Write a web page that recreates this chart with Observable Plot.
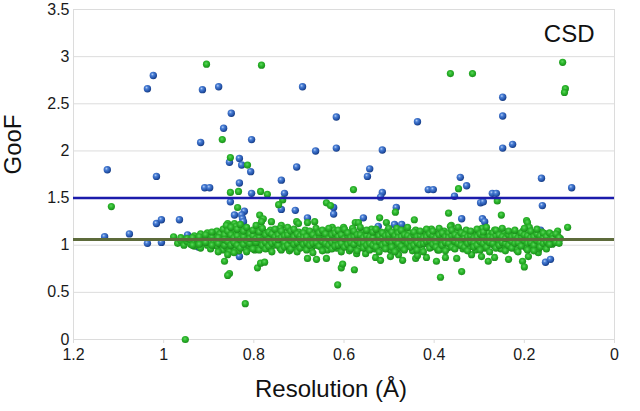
<!DOCTYPE html>
<html>
<head>
<meta charset="utf-8">
<script src="https://cdn.jsdelivr.net/npm/d3@7"></script>
<script src="https://cdn.jsdelivr.net/npm/@observablehq/plot@0.6"></script>
<style>
  html, body { margin: 0; padding: 0; background: #fff; }
  #chart svg { display: block; }
</style>
</head>
<body>
<div id="chart"></div>
<script>
// ---- data ----
const xTicks = [1.2, 1, 0.8, 0.6, 0.4, 0.2, 0];
const yTicks = [0, 0.5, 1, 1.5, 2, 2.5, 3, 3.5];
const blueLine = [1.5];
const greenLine = [1.06];
const xTitle = "Resolution (Å)";
const yTitle = "GooF";
const panelLabel = "CSD";

// blue points: [resolution, GooF]
const bluePts = [
  [1.125,1.80],[1.036,2.66],[1.023,2.80],[0.914,2.65],[0.878,2.68],[0.918,2.09],[1.016,1.73],
  [0.909,1.61],[0.898,1.61],[0.692,2.68],[0.850,2.40],[0.617,2.36],[0.437,2.31],[0.867,2.24],
  [0.805,2.12],[0.663,2.00],[0.617,2.03],[0.515,2.01],[0.854,1.88],[0.832,1.92],[0.827,1.85],
  [0.807,1.78],[0.705,1.83],[0.543,1.81],[0.548,1.73],[0.739,1.69],[0.832,1.66],[0.805,1.55],
  [0.732,1.55],[0.515,1.56],[0.519,1.51],[0.852,1.46],[0.248,2.57],[0.248,2.37],[0.248,2.03],
  [0.226,2.07],[0.162,1.71],[0.095,1.61],[0.342,1.72],[0.328,1.63],[0.413,1.59],[0.402,1.59],
  [0.355,1.52],[0.271,1.55],[0.262,1.55],[0.297,1.45],[0.291,1.46],[0.484,1.40],[0.339,1.28],
  [0.557,1.29],[0.524,1.20],[0.488,1.22],[0.472,1.22],[0.293,1.28],[0.288,1.25],[0.160,1.42],
  [0.164,1.16],[0.169,1.13],[0.200,1.00],[0.153,0.82],[0.142,0.85],[0.821,1.36],[0.739,1.38],
  [0.708,1.37],[0.843,1.32],[0.827,1.32],[0.825,1.28],[0.823,1.25],[0.681,1.29],[0.623,1.40],
  [0.623,1.33],[0.832,0.88],[1.016,1.23],[1.005,1.27],[0.965,1.27],[1.076,1.12],[1.131,1.09],
  [1.036,1.02],[1.005,1.03],[0.947,1.11],[0.956,1.02],[0.936,1.03],[0.923,0.98],[0.916,1.10]
];

// green outliers: [resolution, GooF]
const greenOut = [
  [0.905,2.92],[0.783,2.91],[0.364,2.82],[0.315,2.82],[0.115,2.94],[0.109,2.66],[0.111,2.62],
  [0.870,2.12],[0.852,1.93],[0.814,1.85],[0.852,1.56],[0.834,1.57],[0.785,1.57],[0.770,1.54],
  [0.579,1.59],[0.736,1.48],[0.346,1.60],[1.116,1.41],[0.952,0.00],[0.745,1.43],[0.836,1.40],
  [0.787,1.32],[0.779,1.28],[0.783,1.25],[0.761,1.25],[0.739,1.21],[0.705,1.25],[0.701,1.23],
  [0.681,1.24],[0.665,1.25],[0.639,1.45],[0.630,1.42],[0.626,1.19],[0.601,1.19],[0.858,1.23],
  [0.843,1.23],[0.885,1.13],
  [0.865,0.83],[0.854,0.70],[0.858,0.68],[0.792,0.76],[0.785,0.81],[0.776,0.82],[0.819,0.38],
  [0.681,0.86],[0.661,0.85],[0.639,0.86],[0.606,0.76],[0.603,0.80],[0.614,0.58],[0.577,0.74],
  [0.572,0.91],[0.552,0.91],[0.530,0.87],[0.519,0.84],[0.497,0.88],[0.479,0.90],[0.470,0.84],
  [0.441,0.86],[0.437,0.89],[0.417,0.87],[0.395,0.83],[0.386,0.66],[0.375,0.87],[0.350,0.86],
  [0.339,0.72],[0.317,0.90],[0.295,0.88],[0.280,0.83],[0.266,0.87],[0.235,0.85],[0.204,0.83],
  [0.200,0.77],[0.191,0.88],[0.182,0.97],[0.169,0.92],[0.138,1.01],
  [0.486,1.35],[0.368,1.34],[0.521,1.29],[0.506,1.24],[0.444,1.27],[0.575,1.24],[0.568,1.24],
  [0.362,1.21],[0.346,1.17],[0.260,1.47],[0.251,1.32],[0.195,1.26],[0.193,1.24],[0.104,1.19],
  [0.126,1.15]
];

// green dense band, first pass: [resolution, [GooF values]]
const greenBandA = [
  [0.978,[1.09]],[0.969,[1.02]],[0.962,[1.05,1.08]],[0.955,[1.00]],[0.948,[1.04,1.07]],
  [0.940,[1.01,1.06]],[0.932,[1.03,1.10,0.99]],[0.925,[1.05,1.07]],[0.918,[1.02,1.12,0.97]],
  [0.910,[1.06,1.04,1.09]],[0.903,[1.00,1.08,1.13]],[0.896,[1.05,1.02,0.96]],[0.889,[1.07,1.11,1.03]],
  [0.882,[1.04,0.99,1.09,1.15]],[0.875,[1.06,1.01,1.12]],[0.868,[1.08,1.03,0.95,1.17]],
  [0.861,[1.05,1.10,0.98,1.21]],[0.854,[1.02,1.07,1.13,0.93]],[0.847,[1.09,1.04,1.16,0.99]],
  [0.840,[1.06,1.01,1.11,1.20,0.96]],[0.833,[1.03,1.08,1.14,0.94]],[0.826,[1.05,1.10,0.99,1.18]],
  [0.819,[1.07,1.02,1.12,0.97]],[0.812,[1.04,1.09,1.15,1.00]],[0.805,[1.06,1.11,0.98,1.01]],
  [0.798,[1.08,1.03,1.13,0.95]],[0.791,[1.05,1.00,1.10,1.17]],[0.784,[1.07,1.02,1.12]],
  [0.777,[1.04,1.09,0.98,1.14]],[0.770,[1.06,1.01,1.11]],[0.763,[1.08,1.03,0.96,1.16]],
  [0.756,[1.05,1.10,1.00]],[0.749,[1.07,1.02,1.13]],[0.742,[1.04,1.09,0.97,1.18]],
  [0.735,[1.06,1.11,1.01]],[0.728,[1.08,1.03,1.14]],[0.721,[1.05,1.00,1.10,0.94]],
  [0.714,[1.07,1.12,1.02]],[0.707,[1.04,1.09,0.98]],[0.700,[1.06,1.14,1.01]],
  [0.693,[1.08,1.03,1.11]],[0.686,[1.05,0.99,1.16]],[0.679,[1.07,1.02,1.12]],
  [0.672,[1.04,1.09,0.96]],[0.665,[1.06,1.11,1.00]],[0.658,[1.08,1.03,1.15]],
  [0.651,[1.05,1.10,0.98]],[0.644,[1.07,1.01,1.13]],[0.637,[1.04,1.09,0.95]],
  [0.630,[1.06,1.12,1.02]],[0.623,[1.08,1.00,1.16]],[0.616,[1.05,1.10,0.97]],
  [0.609,[1.07,1.02,1.13]],[0.602,[1.04,1.09,0.99]],[0.595,[1.06,1.14,1.01]],
  [0.588,[1.08,1.03,0.94]],[0.581,[1.05,1.11,1.18]],[0.574,[1.07,1.00,1.12]],
  [0.567,[1.04,1.09,0.97]],[0.560,[1.06,1.15,1.02]],[0.553,[1.08,1.01,1.11]],
  [0.546,[1.05,0.98,1.13]],[0.539,[1.07,1.03,1.17]],[0.532,[1.04,1.10,0.96]],
  [0.525,[1.06,1.12,1.00]],[0.518,[1.08,1.02,1.14]],[0.511,[1.05,1.10,0.99]],
  [0.504,[1.07,1.01,1.15]],[0.497,[1.04,1.09,0.95]],[0.490,[1.06,1.12,1.02]],
  [0.483,[1.08,1.00,1.18]],[0.476,[1.05,1.11,0.97]],[0.469,[1.07,1.03,1.14]],
  [0.462,[1.04,1.09,0.99]],[0.455,[1.06,1.13,1.01]],[0.448,[1.08,1.02,0.94]],
  [0.441,[1.05,1.10,1.16]],[0.434,[1.07,1.00,1.12]],[0.427,[1.04,1.09,0.96]],
  [0.420,[1.06,1.14,1.02]],[0.413,[1.08,1.01,1.11]],[0.406,[1.05,0.98,1.17]],
  [0.399,[1.07,1.03,1.12]],[0.392,[1.04,1.10,0.95]],[0.385,[1.06,1.13,1.00]],
  [0.378,[1.08,1.02,1.15]],[0.371,[1.05,1.11,0.97]],[0.364,[1.07,1.01,1.20]],
  [0.357,[1.04,1.09,0.99]],[0.350,[1.06,1.14,1.02]],[0.343,[1.08,1.00,1.11]],
  [0.336,[1.05,0.96,1.13]],[0.329,[1.07,1.03,1.16]],[0.322,[1.04,1.10,0.98]],
  [0.315,[1.06,1.12,1.01]],[0.308,[1.08,1.02,0.95]],[0.301,[1.05,1.10,1.14]],
  [0.294,[1.07,1.00,1.18]],[0.287,[1.04,1.09,0.97]],[0.280,[1.06,1.13,1.02]],
  [0.273,[1.08,1.01,1.11]],[0.266,[1.05,0.99,1.16]],[0.259,[1.07,1.03,1.12]],
  [0.252,[1.04,1.10,0.96]],[0.245,[1.06,1.14,1.00]],[0.238,[1.08,1.02,1.11]],
  [0.231,[1.05,1.09,0.98]],[0.224,[1.07,1.01,1.13]],[0.217,[1.04,1.10,0.95]],
  [0.210,[1.06,1.12,1.02]],[0.203,[1.08,1.00,1.15]],[0.196,[1.05,1.11,0.97]],
  [0.189,[1.07,1.03,1.19]],[0.182,[1.04,1.09,0.99]],[0.175,[1.06,1.13,1.01]],
  [0.168,[1.08,1.02,0.96]],[0.161,[1.05,1.10,1.14]],[0.154,[1.07,1.00,1.12]],
  [0.147,[1.04,1.09]],[0.140,[1.06,1.11,1.02]],[0.133,[1.08,1.04]],[0.126,[1.05,1.10]],
  [0.120,[1.07]]
];

// green dense band, second pass (interleaved columns)
const greenBandB = [
  [0.936,[1.08,1.00]],[0.921,[1.09,1.01]],[0.907,[1.03,1.11]],[0.893,[1.09,1.00,1.14]],
  [0.879,[1.02,1.08,0.93]],[0.865,[1.11,1.00,1.06]],[0.858,[1.04,1.15,0.90]],[0.851,[1.11,1.00,1.19]],
  [0.844,[1.03,1.08,0.92]],[0.837,[1.10,1.17,1.00]],[0.830,[1.06,0.97,1.22]],[0.823,[1.09,1.01,1.15]],
  [0.816,[1.05,0.93,1.19]],[0.809,[1.02,1.12,1.07]],[0.802,[1.10,0.96,1.16]],[0.795,[1.03,1.07,1.21]],
  [0.788,[1.09,0.95,1.14]],[0.781,[1.05,1.00,1.18]],[0.774,[1.11,0.96,1.03]],[0.767,[1.06,1.14,0.99]],
  [0.760,[1.02,1.12,0.93]],[0.753,[1.09,1.17,1.04]],[0.746,[1.00,1.11,1.06]],[0.739,[1.08,0.95,1.15]],
  [0.732,[1.03,1.10,0.98]],[0.725,[1.11,1.00,1.19]],[0.718,[1.05,0.96,1.15]],[0.711,[1.09,1.01,1.17]],
  [0.704,[1.03,1.12,0.93]],[0.697,[1.10,0.97,1.06]],[0.690,[1.01,1.13,1.08]],[0.683,[1.09,0.95,1.03]],
  [0.676,[1.05,1.15,1.00]],[0.669,[1.11,1.02,0.92]],[0.662,[1.03,1.08,1.18]],[0.655,[1.10,0.99,1.13]],
  [0.648,[1.04,1.16,0.94]],[0.641,[1.09,1.02,1.12]],[0.634,[1.00,1.07,1.18]],[0.627,[1.11,1.03,0.96]],
  [0.620,[1.05,1.13,0.99]],[0.613,[1.09,1.00,1.16]],[0.606,[1.02,1.11,0.93]],[0.599,[1.07,1.17,0.98]],
  [0.592,[1.10,1.01,1.13]],[0.585,[1.03,0.96,1.08]],[0.578,[1.09,1.15,1.01]],[0.571,[1.05,0.94,1.11]],
  [0.564,[1.11,1.02,1.19]],[0.557,[1.03,1.08,0.97]],[0.550,[1.10,1.16,1.00]],[0.543,[1.02,1.09,0.95]],
  [0.536,[1.08,1.14,1.00]],[0.529,[1.03,0.98,1.17]],[0.522,[1.10,1.04,0.93]],[0.515,[1.07,1.13,1.00]],
  [0.508,[1.02,1.10,0.96]],[0.501,[1.11,1.05,1.18]],[0.494,[1.03,0.98,1.14]],[0.487,[1.10,1.05,0.93]],
  [0.480,[1.02,1.13,1.08]],[0.473,[1.09,0.99,1.16]],[0.466,[1.05,1.11,0.95]],[0.459,[1.10,1.02,1.19]],
  [0.452,[1.04,1.08,0.98]],[0.445,[1.11,1.00,1.14]],[0.438,[1.03,1.09,0.95]],[0.431,[1.10,1.15,1.01]],
  [0.424,[1.02,1.08,0.93]],[0.417,[1.09,1.04,1.17]],[0.410,[1.05,1.12,0.97]],[0.403,[1.10,1.01,1.15]],
  [0.396,[1.03,1.08,0.98]],[0.389,[1.11,0.95,1.18]],[0.382,[1.05,1.00,1.13]],[0.375,[1.09,1.03,0.94]],
  [0.368,[1.02,1.13,1.08]],[0.361,[1.10,0.98,1.16]],[0.354,[1.04,1.11,0.96]],[0.347,[1.09,1.02,1.19]],
  [0.340,[1.05,1.13,1.00]],[0.333,[1.11,0.98,1.07]],[0.326,[1.02,1.09,0.94]],[0.319,[1.10,1.15,1.04]],
  [0.312,[1.03,1.08,0.98]],[0.305,[1.09,1.00,1.17]],[0.298,[1.04,1.12,0.95]],[0.291,[1.10,1.02,1.14]],
  [0.284,[1.05,0.98,1.19]],[0.277,[1.09,1.03,0.93]],[0.270,[1.02,1.13,1.08]],[0.263,[1.10,0.97,1.16]],
  [0.256,[1.05,1.11,1.00]],[0.249,[1.09,1.03,1.18]],[0.242,[1.02,1.07,0.94]],[0.235,[1.11,1.00,1.15]],
  [0.228,[1.04,1.09,0.97]],[0.221,[1.10,1.16,1.02]],[0.214,[1.03,1.08,0.93]],[0.207,[1.09,0.99,1.13]],
  [0.200,[1.05,1.11,1.18]],[0.193,[1.10,1.02,0.95]],[0.186,[1.03,1.08,1.15]],[0.179,[1.09,1.00,0.94]],
  [0.172,[1.05,1.12,1.17]],[0.165,[1.10,1.03,0.98]],[0.158,[1.02,1.08,1.13]],[0.151,[1.09,1.04,0.96]],
  [0.144,[1.05,1.13,1.01]],[0.137,[1.10,1.07]],[0.130,[1.03,1.12]],[0.123,[1.08,1.02]]
];

// ---- build tables ----
const blue = bluePts.map(([res, goof]) => ({res, goof}));
const bandRows = cols => cols.flatMap(([res, ys]) => ys.map(goof => ({res, goof})));
const green = greenOut.map(([res, goof]) => ({res, goof}))
  .concat(bandRows(greenBandA), bandRows(greenBandB));

const grid = "#dcdcdc";
const font = "'Liberation Sans', Arial, Helvetica, sans-serif";

const chart = Plot.plot({
  width: 640,
  height: 411,
  marginLeft: 73,
  marginRight: 26,
  marginTop: 9,
  marginBottom: 72,
  style: {fontFamily: font, background: "#fff", color: "#1a1a1a"},
  x: {domain: [1.2, 0], label: null},
  y: {domain: [0, 3.5], label: null},
  marks: [
    Plot.gridY(yTicks, {stroke: grid, strokeOpacity: 1, strokeWidth: 1}),
    Plot.frame({stroke: grid}),
    Plot.axisX(xTicks, {tickFormat: d => String(d), tickSize: 4, tickPadding: 5, stroke: grid, color: "#1a1a1a", fontSize: 16, label: null}),
    Plot.axisY(yTicks, {tickFormat: d => String(d), tickSize: 0, tickPadding: 4, color: "#1a1a1a", fontSize: 16, label: null}),
    Plot.dot(blue, {x: "res", y: "goof", r: 3.7, fill: "url(#gBlue)", stroke: "none"}),
    Plot.dot(green, {x: "res", y: "goof", r: 3.6, fill: "url(#gGreen)", stroke: "none"}),
    Plot.ruleY(blueLine, {stroke: "#1b1bab", strokeWidth: 2.5}),
    Plot.ruleY(greenLine, {stroke: "#5d6b3b", strokeWidth: 3}),
    Plot.text([panelLabel], {frameAnchor: "top-right", textAnchor: "end", lineAnchor: "top", dx: -20, dy: 15, fontSize: 24, fill: "#111"}),
    Plot.text([yTitle], {frameAnchor: "left", rotate: -90, dx: -60, fontSize: 24, fill: "#111"}),
    Plot.text([xTitle], {frameAnchor: "bottom", dx: -13, dy: 57, fontSize: 24, fill: "#111"})
  ]
});

// sphere-like gradients for the dots
const defs = d3.select(chart).insert("defs", ":first-child");
const gb = defs.append("radialGradient").attr("id", "gBlue").attr("cx", "38%").attr("cy", "35%").attr("r", "65%");
gb.append("stop").attr("offset", "0%").attr("stop-color", "#b7cff5");
gb.append("stop").attr("offset", "30%").attr("stop-color", "#4b80d6");
gb.append("stop").attr("offset", "80%").attr("stop-color", "#2251a8");
gb.append("stop").attr("offset", "100%").attr("stop-color", "#173c80");
const gg = defs.append("radialGradient").attr("id", "gGreen").attr("cx", "45%").attr("cy", "40%").attr("r", "60%");
gg.append("stop").attr("offset", "0%").attr("stop-color", "#5fd45f");
gg.append("stop").attr("offset", "45%").attr("stop-color", "#2cb82c");
gg.append("stop").attr("offset", "85%").attr("stop-color", "#1f9a1f");
gg.append("stop").attr("offset", "100%").attr("stop-color", "#188518");

document.getElementById("chart").append(chart);
</script>
</body>
</html>
